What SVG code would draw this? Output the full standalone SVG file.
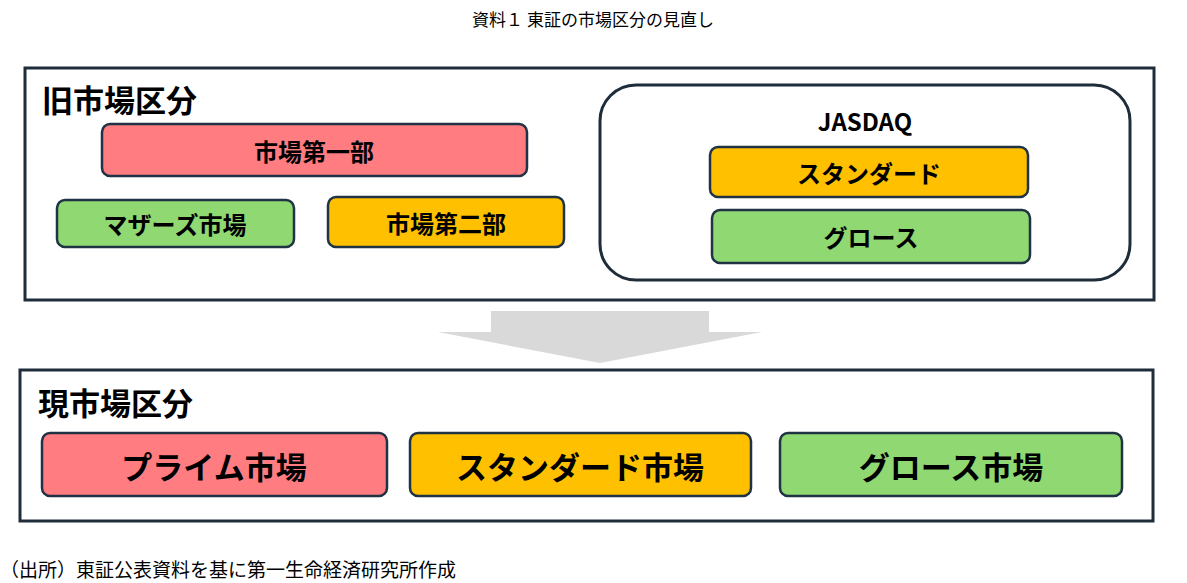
<svg xmlns="http://www.w3.org/2000/svg" width="1187" height="583" viewBox="0 0 1187 583">
<style>
text{font-family:"Noto Sans CJK JP","Liberation Sans",sans-serif;fill:#000}
.frame{fill:#fff;stroke:#1f2d3a;stroke-width:3}
.n{stroke:#1f3344;stroke-width:2.5}
.red{fill:#ff7c80}.org{fill:#ffc000}.grn{fill:#8fd872}
.lbl{font-weight:bold;text-anchor:middle;dominant-baseline:central}
.hd{font-weight:bold;font-size:31px}
</style>
<rect width="1187" height="583" fill="#fff"/>
<text x="593" y="26" font-size="17" text-anchor="middle">資料１ 東証の市場区分の見直し</text>
<g id="old"><rect class="frame" x="25" y="68" width="1129" height="232"/><text class="hd" x="42" y="112">旧市場区分</text></g>
<g id="jasdaq"><rect class="frame" x="600" y="85" width="530" height="195" rx="36" stroke-width="2.5"/><text class="lbl" x="865" y="120" font-size="24">JASDAQ</text></g>
<g id="ichibu"><rect class="n red" x="102" y="124" width="425" height="52" rx="8"/><text class="lbl" x="314" y="150" font-size="24">市場第一部</text></g>
<g id="mothers"><rect class="n grn" x="57" y="200" width="237" height="47" rx="8"/><text class="lbl" x="175" y="223" font-size="24">マザーズ市場</text></g>
<g id="nibu"><rect class="n org" x="328" y="197" width="236" height="50" rx="8"/><text class="lbl" x="446" y="222" font-size="24">市場第二部</text></g>
<g id="jstd"><rect class="n org" x="710" y="147" width="318" height="50" rx="8"/><text class="lbl" x="869" y="172" font-size="24">スタンダード</text></g>
<g id="jgrowth"><rect class="n grn" x="712" y="210" width="318" height="53" rx="8"/><text class="lbl" x="871" y="236" font-size="24">グロース</text></g>
<g id="connectors"><polygon points="491,311 709,311 709,332 762,332 600,363 438,332 491,332" fill="#d9d9d9"/></g>
<g id="new"><rect class="frame" x="20" y="370" width="1133" height="151"/><text class="hd" x="38" y="415">現市場区分</text></g>
<g id="prime"><rect class="n red" x="42" y="433" width="345" height="63" rx="8"/><text class="lbl" x="214" y="465" font-size="31">プライム市場</text></g>
<g id="standard"><rect class="n org" x="410" y="433" width="341" height="63" rx="8"/><text class="lbl" x="580" y="465" font-size="31">スタンダード市場</text></g>
<g id="growth"><rect class="n grn" x="780" y="433" width="342" height="63" rx="8"/><text class="lbl" x="951" y="465" font-size="31">グロース市場</text></g>
<text x="0" y="577" font-size="19">（出所）東証公表資料を基に第一生命経済研究所作成</text>
</svg>
